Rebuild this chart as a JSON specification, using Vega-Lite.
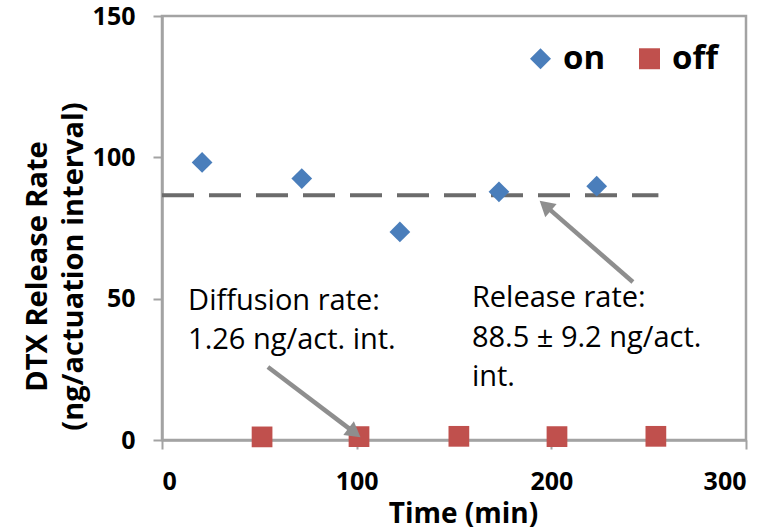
{
  "$schema": "https://vega.github.io/schema/vega-lite/v6.json",
  "width": 584,
  "height": 424,
  "autosize": {"type": "none"},
  "padding": {"left": 162, "top": 16, "right": 27, "bottom": 91},
  "background": "white",
  "config": {
    "font": "Open Sans",
    "view": {"stroke": "#a3a3a3", "strokeWidth": 2.5},
    "axis": {
      "grid": false,
      "domainColor": "#a3a3a3",
      "domainWidth": 2.5,
      "tickColor": "#a3a3a3",
      "tickWidth": 2,
      "tickSize": 9,
      "labelFont": "Open Sans",
      "labelFontSize": 25,
      "labelFontWeight": "bold",
      "labelColor": "#000000",
      "titleFont": "Open Sans",
      "titleFontWeight": "bold",
      "titleColor": "#000000"
    }
  },
  "layer": [
    {
      "data": {"values": [{"t_start": 0, "t_end": 255, "rate": 86.6}]},
      "mark": {"type": "rule", "color": "#6b6b6b", "strokeWidth": 4, "strokeDash": [32, 15]},
      "encoding": {
        "x": {"field": "t_start", "type": "quantitative", "scale": {"domain": [0, 300]}},
        "x2": {"field": "t_end"},
        "y": {"field": "rate", "type": "quantitative", "scale": {"domain": [0, 150]}}
      }
    },
    {
      "data": {"values": [
        {"time": 20.6, "rate": 98.2, "state": "on"},
        {"time": 71.8, "rate": 92.5, "state": "on"},
        {"time": 122.2, "rate": 73.6, "state": "on"},
        {"time": 173.1, "rate": 87.8, "state": "on"},
        {"time": 223.3, "rate": 89.8, "state": "on"},
        {"time": 51.4, "rate": 1.1, "state": "off"},
        {"time": 101.2, "rate": 1.2, "state": "off"},
        {"time": 152.5, "rate": 1.3, "state": "off"},
        {"time": 202.9, "rate": 1.2, "state": "off"},
        {"time": 253.7, "rate": 1.3, "state": "off"}
      ]},
      "mark": {"type": "point", "filled": true, "opacity": 1, "size": 430},
      "encoding": {
        "x": {
          "field": "time", "type": "quantitative",
          "scale": {"domain": [0, 300], "nice": false},
          "axis": {
            "values": [0, 100, 200, 300],
            "labelPadding": 20,
            "title": "Time (min)",
            "titleFontSize": 28,
            "titleX": 301,
            "titleY": 82,
            "titleBaseline": "alphabetic",
            "titleAnchor": "middle"
          }
        },
        "y": {
          "field": "rate", "type": "quantitative",
          "scale": {"domain": [0, 150], "nice": false},
          "axis": {
            "values": [0, 50, 100, 150],
            "labelPadding": 18,
            "title": ["DTX Release Rate", "(ng/actuation interval)"],
            "titleFontSize": 29,
            "titleLineHeight": 36,
            "titleX": -125,
            "titleY": 250,
            "titleBaseline": "middle",
            "titleAlign": "center",
            "titleAngle": -90
          }
        },
        "color": {
          "field": "state", "type": "nominal",
          "scale": {"domain": ["on", "off"], "range": ["#4a7ebb", "#c0504d"]},
          "legend": {
            "orient": "none",
            "legendX": 362,
            "legendY": 26,
            "direction": "horizontal",
            "title": null,
            "labelFontSize": 33,
            "labelFontWeight": "bold",
            "labelColor": "#000000",
            "labelFont": "Open Sans",
            "symbolSize": 440,
            "symbolStrokeWidth": 0,
            "symbolOpacity": 1,
            "labelOffset": 6,
            "columnPadding": 27,
            "padding": 0
          }
        },
        "shape": {
          "field": "state", "type": "nominal",
          "scale": {"domain": ["on", "off"], "range": ["diamond", "square"]},
          "legend": {
            "orient": "none",
            "legendX": 362,
            "legendY": 26,
            "direction": "horizontal",
            "title": null,
            "labelFontSize": 33,
            "labelFontWeight": "bold",
            "labelColor": "#000000",
            "labelFont": "Open Sans",
            "symbolSize": 440,
            "symbolStrokeWidth": 0,
            "symbolOpacity": 1,
            "labelOffset": 6,
            "columnPadding": 27,
            "padding": 0
          }
        }
      }
    },
    {
      "data": {"values": [
        {"x_tail": 54.4, "y_tail": 25.8, "x_head": 98.9, "y_head": 2.6},
        {"x_tail": 241.9, "y_tail": 55.9, "x_head": 196.9, "y_head": 82.9}
      ]},
      "mark": {"type": "rule", "color": "#8e8e8e", "strokeWidth": 4.5},
      "encoding": {
        "x": {"field": "x_tail", "type": "quantitative"},
        "y": {"field": "y_tail", "type": "quantitative"},
        "x2": {"field": "x_head"},
        "y2": {"field": "y_head"}
      }
    },
    {
      "data": {"values": [{"x_head": 98.9, "y_head": 2.6}]},
      "mark": {"type": "point", "shape": "triangle-up", "filled": true, "opacity": 1, "color": "#8e8e8e", "size": 300, "angle": 127.7},
      "encoding": {
        "x": {"field": "x_head", "type": "quantitative"},
        "y": {"field": "y_head", "type": "quantitative"}
      }
    },
    {
      "data": {"values": [{"x_head": 196.9, "y_head": 82.9}]},
      "mark": {"type": "point", "shape": "triangle-up", "filled": true, "opacity": 1, "color": "#8e8e8e", "size": 300, "angle": 311.1},
      "encoding": {
        "x": {"field": "x_head", "type": "quantitative"},
        "y": {"field": "y_head", "type": "quantitative"}
      }
    },
    {
      "data": {"values": [
        {"x": 13.4, "y": 46.0, "label": "Diffusion rate:\n1.26 ng/act. int."},
        {"x": 159.2, "y": 47.0, "label": "Release rate:\n88.5 ± 9.2 ng/act.\nint."}
      ]},
      "mark": {"type": "text", "align": "left", "baseline": "alphabetic", "fontSize": 29, "font": "Open Sans", "lineBreak": "\n", "lineHeight": 39.5, "color": "#000000"},
      "encoding": {
        "x": {"field": "x", "type": "quantitative"},
        "y": {"field": "y", "type": "quantitative"},
        "text": {"field": "label"}
      }
    }
  ]
}
